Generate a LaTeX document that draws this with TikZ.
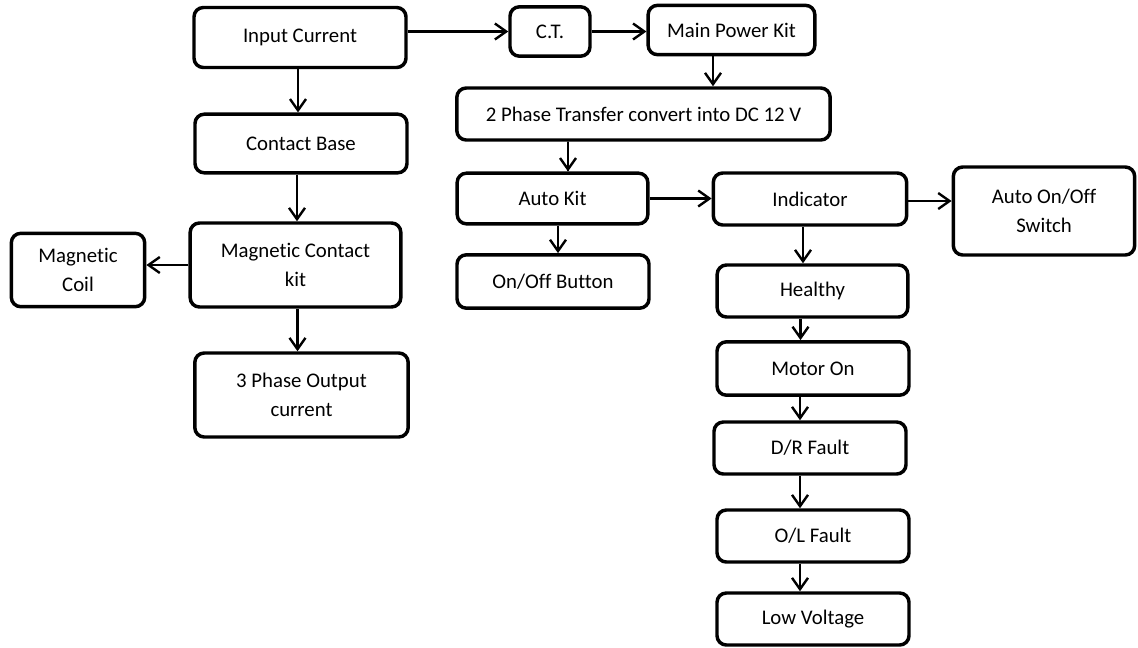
\documentclass[tikz,border=0pt]{standalone}
\usepackage{fontspec}
\setmainfont{Carlito}[Ligatures=NoCommon]
\usetikzlibrary{calc, arrows.meta}
\tikzstyle{blk}=[draw, line width=2.6pt, rounded corners=7pt, align=center, inner sep=2pt, font=\fontsize{15.6}{21.5}\selectfont]
\tikzstyle{arr}=[line width=1.8pt, -{Straight Barb[length=8.5pt, width=12pt, line width=1.8pt]}]

\begin{document}
\begin{tikzpicture}[x=0.75pt, y=-0.75pt]
  \useasboundingbox (0,0) rectangle (1138,647);
  % left column
  \node [blk, minimum width=159pt, minimum height=45pt] (inp) at (300,37.5) {Input Current};
  \node [blk, minimum width=159pt, minimum height=44pt] (cb) at (301,143.5) {Contact Base};
  \node [blk, minimum width=158pt, minimum height=63pt] (mck) at (295.5,265) {Magnetic Contact\\kit};
  \node [blk, minimum width=100pt, minimum height=55pt] (coil) at (78,270) {Magnetic\\Coil};
  \node [blk, minimum width=160pt, minimum height=63pt] (out) at (301.5,395) {3 Phase Output\\current};
  % top row
  \node [blk, minimum width=60pt, minimum height=37pt] (ct) at (550,31.5) {C.T.};
  \node [blk, minimum width=125pt, minimum height=37pt] (mpk) at (731.5,30) {Main Power Kit};
  \node [blk, minimum width=280pt, minimum height=39pt] (dc) at (643.5,114) {2 Phase Transfer convert into DC 12 V};
  % middle
  \node [blk, minimum width=143pt, minimum height=38pt] (ak) at (552.5,198.5) {Auto Kit};
  \node [blk, minimum width=144pt, minimum height=40pt] (btn) at (553,281.5) {On/Off Button};
  \node [blk, minimum width=145pt, minimum height=39pt] (ind) at (810,199) {Indicator};
  \node [blk, minimum width=136pt, minimum height=66pt] (aos) at (1044,211) {Auto On/Off\\Switch};
  % indicator column
  \node [blk, minimum width=143pt, minimum height=39pt] (hl) at (812.5,291) {Healthy};
  \node [blk, minimum width=144pt, minimum height=40pt] (mo) at (813,368.5) {Motor On};
  \node [blk, minimum width=144pt, minimum height=39pt] (dr) at (810,448) {D/R Fault};
  \node [blk, minimum width=144pt, minimum height=39pt] (ol) at (813,536) {O/L Fault};
  \node [blk, minimum width=144pt, minimum height=39pt] (lv) at (813,619) {Low Voltage};

  \draw [arr] (inp.south) ++(-2,0) coordinate (p) -- (p |- cb.north);
  \draw [arr] (cb.south) ++(-4,0) coordinate (p) -- (p |- mck.north);
  \draw [arr] (mck.south) ++(2,0) coordinate (p) -- (p |- out.north);
  \draw [arr] (mck.west) -- (mck.west -| coil.east);
  \draw [arr] (inp.east |- ct.west) -- (ct.west);
  \draw [arr] (ct.east) -- (ct.east -| mpk.west);
  \draw [arr] (mpk.south) ++(-18.5,0) coordinate (p) -- (p |- dc.north);
  \draw [arr] (ak.north) ++(15.5,0) coordinate (p) -- (p |- dc.south) -- (p);
  \draw [arr] (ak.south) ++(5.5,0) coordinate (p) -- (p |- btn.north);
  \draw [arr] (ak.east) -- (ak.east -| ind.west);
  \draw [arr] (ind.east) ++(0,2) coordinate (p) -- (p -| aos.west);
  \draw [arr] (ind.south) ++(-7,0) coordinate (p) -- (p |- hl.north);
  \draw [arr] (hl.south) ++(-12,0) coordinate (p) -- (p |- mo.north);
  \draw [arr] (mo.south) ++(-13,0) coordinate (p) -- (p |- dr.north);
  \draw [arr] (dr.south) ++(-10,0) coordinate (p) -- (p |- ol.north);
  \draw [arr] (ol.south) ++(-13,0) coordinate (p) -- (p |- lv.north);
\end{tikzpicture}
\end{document}
